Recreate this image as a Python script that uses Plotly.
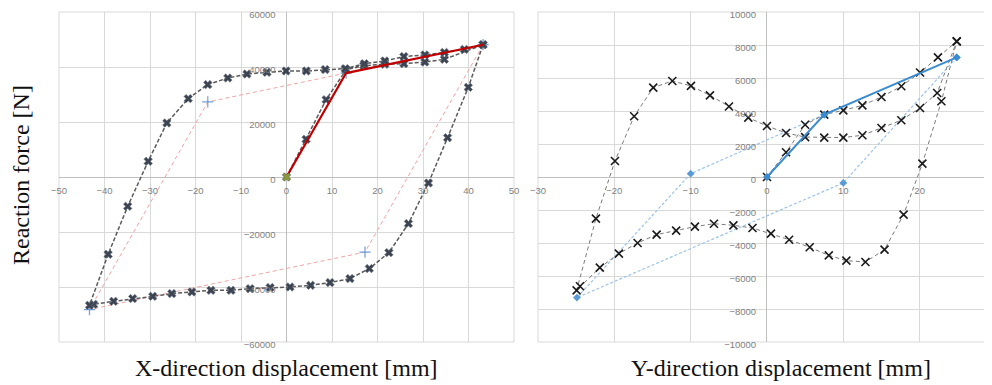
import plotly.graph_objects as go

# The page body has an 8px default margin; the figure is sized to fit the window.
OFF = 8
W, H = 992 - OFF, 385 - OFF


def fx(px):
    return (px - OFF) / W


def fy(py):
    return 1 - (py - OFF) / H


# ---------------- Left panel (X direction) ----------------
# Experimental hysteresis (dark dashed, x markers)
lx_exp = [0, 4.3, 8.7, 13.1, 17.0, 21.6, 25.8, 30.4, 34.7, 43.2,
          39.95, 35.4, 31.2, 26.8, 22.5, 18.2, 13.95, 9.56, 5.3, 0.77,
          -3.6, -8.0, -12.2, -16.6, -20.8, -25.2, -29.4, -33.8, -38.0, -42.4, -43.3,
          -39.2, -34.9, -30.4, -26.3, -21.6, -17.3, -12.9, -8.7, -4.3, -0.1,
          4.35, 8.5, 12.9, 17.1, 21.6, 25.8, 30.4, 34.7, 39.1, 43.2]
ly_exp = [0, 13700, 28100, 39000, 40500, 41000, 41200, 41800, 42800, 48100,
          32600, 14300, -2180, -16950, -27500, -33300, -36950, -38400, -39400, -40000,
          -40200, -40600, -41200, -41200, -41800, -42400, -43400, -44200, -45200, -46300, -46650,
          -28100, -10650, 5700, 19640, 28500, 33600, 36000, 37450, 38070, 38550,
          38550, 39050, 39400, 41200, 42200, 43800, 44400, 45300, 46400, 48100]
# Bilinear skeleton (red solid)
lx_skel = [0, 13.1, 43.2]
ly_skel = [0, 37800, 48100]
# Bilinear hysteresis model (pink dashed)
lx_model = [43.2, 17.25, -43.3, -17.3, 13.1]
ly_model = [48100, -27300, -48200, 27300, 37800]

# ---------------- Right panel (Y direction) ----------------
rx_exp = [0, 2.5, 5.0, 7.5, 10.0, 12.5, 15.0, 17.6, 20.05, 22.4, 24.86,
          22.85, 20.36, 17.9, 15.4, 12.9, 10.4, 8.1, 5.6, 2.9, 0.52,
          -1.9, -4.4, -6.95, -9.44, -11.9, -14.46, -16.95, -19.4, -21.9, -24.5, -24.94,
          -22.41, -19.92, -17.4, -14.9, -12.4, -9.96, -7.47, -4.98, -2.45, 0,
          2.5, 5.0, 7.5, 10.0, 12.5, 15.0, 17.6, 20.05, 22.3, 24.86]
ry_exp = [0, 1500, 3170, 3780, 4040, 4340, 4850, 5500, 6330, 7250, 8220,
          4590, 810, -2280, -4400, -5150, -5070, -4750, -4260, -3800, -3430,
          -3090, -2930, -2830, -3010, -3250, -3490, -4000, -4640, -5490, -6620, -6870,
          -2520, 970, 3680, 5420, 5820, 5520, 4950, 4270, 3600, 3090,
          2670, 2420, 2390, 2390, 2530, 2970, 3440, 4180, 5090, 8220]
rx_skel = [0, 7.5, 24.86]
ry_skel = [0, 3780, 7250]
rx_model = [24.86, 10.0, -24.9, -10.0, 7.5]
ry_model = [7250, -360, -7310, 200, 3780]

x_ticks_left = list(range(-50, 51, 10))
y_ticks_left = list(range(-60000, 60001, 20000))
x_ticks_right = list(range(-30, 31, 10))
y_ticks_right = list(range(-10000, 10001, 2000))

fig = go.Figure()

# left traces
fig.add_trace(go.Scatter(x=lx_model, y=ly_model, mode="lines+markers", xaxis="x", yaxis="y",
                         line=dict(color="#f4a3a3", width=1, dash="4px,3px"),
                         marker=dict(symbol="cross-thin-open", size=8, color="#6f9fd8",
                                     line=dict(color="#6f9fd8", width=1.2))))
fig.add_trace(go.Scatter(x=lx_exp, y=ly_exp, mode="lines+markers", xaxis="x", yaxis="y",
                         line=dict(color="#5a5a5a", width=1.5, dash="4px,2px"),
                         marker=dict(symbol="x", size=7.5, color="#3c4452",
                                     line=dict(color="#6b7380", width=0.6))))
fig.add_trace(go.Scatter(x=lx_skel, y=ly_skel, mode="lines", xaxis="x", yaxis="y",
                         line=dict(color="#c00000", width=2.2)))
fig.add_trace(go.Scatter(x=[0], y=[0], mode="markers", xaxis="x", yaxis="y",
                         marker=dict(symbol="x", size=7, color="#8a9a3a")))

# right traces
fig.add_trace(go.Scatter(x=rx_model, y=ry_model, mode="lines+markers", xaxis="x2", yaxis="y2",
                         line=dict(color="#9cc3e8", width=1.2, dash="3px,2px"),
                         marker=dict(symbol="diamond", size=6, color="#5b9bd5")))
fig.add_trace(go.Scatter(x=rx_exp, y=ry_exp, mode="lines+markers", xaxis="x2", yaxis="y2",
                         line=dict(color="#7a7a7a", width=1, dash="4px,3px"),
                         marker=dict(symbol="x-thin-open", size=8, color="#1a1a1a",
                                     line=dict(color="#1a1a1a", width=1.6))))
fig.add_trace(go.Scatter(x=rx_skel, y=ry_skel, mode="lines+markers", xaxis="x2", yaxis="y2",
                         line=dict(color="#3a8bd0", width=2),
                         marker=dict(symbol="diamond", size=6, color="#3a8bd0")))

ydom = [fy(342), fy(12)]
ypos0 = fy(176.7)
tickfont = dict(family="Liberation Sans", size=9.5, color="#7f7f7f")
common = dict(showgrid=True, gridcolor="#d9d9d9", gridwidth=1,
              zeroline=True, zerolinecolor="#bfbfbf", zerolinewidth=1,
              showline=False, ticks="outside", tickcolor="rgba(0,0,0,0)",
              tickfont=tickfont, fixedrange=True, automargin=False,
              ticklabeloverflow="allow")

title_font = dict(family="Liberation Serif", size=24, color="#111111")

fig.update_layout(
    width=W, height=H, margin=dict(l=0, r=0, t=0, b=0, autoexpand=False),
    paper_bgcolor="white", plot_bgcolor="white", showlegend=False,
    xaxis=dict(domain=[fx(59), fx(514)], range=[-50, 50], tickvals=x_ticks_left,
               anchor="free", position=ypos0, ticklen=5, **common),
    yaxis=dict(domain=ydom, range=[-60000, 60000], tickvals=y_ticks_left,
               tickformat="d", anchor="free", position=fx(286.5), ticklen=9,
               ticklabelshift=3, **common),
    xaxis2=dict(domain=[fx(538), fx(991)], range=[-30, 29.35], tickvals=x_ticks_right,
                anchor="free", position=ypos0, ticklen=5, **common),
    yaxis2=dict(domain=ydom, range=[-10000, 10000], tickvals=y_ticks_right,
                tickformat="d", anchor="free", position=fx(767), ticklen=9,
                ticklabelshift=3, **common),
    shapes=[
        dict(type="rect", xref="x domain", yref="y domain", x0=0, x1=1, y0=0, y1=1,
             line=dict(color="#d9d9d9", width=1), layer="below"),
        dict(type="line", xref="x2 domain", yref="y2 domain", x0=0, x1=1, y0=1, y1=1,
             line=dict(color="#d9d9d9", width=1), layer="below"),
        dict(type="line", xref="x2 domain", yref="y2 domain", x0=0, x1=1, y0=0, y1=0,
             line=dict(color="#d9d9d9", width=1), layer="below"),
        dict(type="line", xref="x2 domain", yref="y2 domain", x0=0, x1=0, y0=0, y1=1,
             line=dict(color="#d9d9d9", width=1), layer="below"),
    ],
    annotations=[
        dict(text="Reaction force [N]", x=fx(21), y=fy(175), xref="paper", yref="paper",
             textangle=-90, showarrow=False, xanchor="center", yanchor="middle",
             font=title_font),
        dict(text="X-direction displacement [mm]", x=fx(286), y=fy(368), xref="paper",
             yref="paper", showarrow=False, xanchor="center", yanchor="middle",
             font=title_font),
        dict(text="Y-direction displacement [mm]", x=fx(781), y=fy(368), xref="paper",
             yref="paper", showarrow=False, xanchor="center", yanchor="middle",
             font=title_font),
    ],
)

fig.write_html("out.html")
